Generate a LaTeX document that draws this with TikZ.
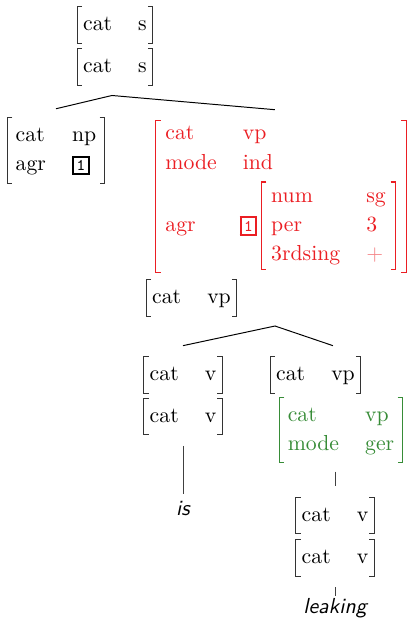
\documentclass[tikz,border=0pt]{standalone}
\usetikzlibrary{fit}
\definecolor{avmred}{RGB}{235,30,35}
\definecolor{avmgreen}{RGB}{55,140,55}
\renewcommand{\arraystretch}{1.1}
\newcommand{\boxtag}[1]{{\setlength{\fboxrule}{0.85pt}\setlength{\fboxsep}{1.2pt}\fbox{\fontsize{7.5}{7.5}\selectfont\ttfamily #1}}}
\newcommand{\avmtab}[1]{\begin{tabular}{@{}l@{\hspace{12pt}}l@{}}#1\end{tabular}}
\newcommand{\avmbr}[2][brk]{%
  \draw[#1] ([xshift=2.3pt]#2.north west) -- (#2.north west) -- (#2.south west) -- ([xshift=2.3pt]#2.south west);
  \draw[#1] ([xshift=-2.3pt]#2.north east) -- (#2.north east) -- (#2.south east) -- ([xshift=-2.3pt]#2.south east);}
\tikzset{
  brk/.style={line width=0.45pt, draw=black!80},
  redbrk/.style={line width=0.8pt, draw=avmred},
  greenbrk/.style={line width=0.55pt, draw=avmgreen},
  avm/.style={inner xsep=2.6pt, inner ysep=1.7pt, anchor=center},
  tree/.style={line width=0.45pt, draw=black},
  stem/.style={line width=0.4pt, draw=black!75},
  leaf/.style={font=\sffamily\itshape, inner sep=0pt, anchor=base},
}
\begin{document}
\begin{tikzpicture}[x=0.46pt, y=-0.46pt]
\useasboundingbox (0,0) rectangle (408,620);
% root
\node[avm] (s1) at (115,25) {\avmtab{cat & s}};
\node[avm] (s2) at (115,67) {\avmtab{cat & s}};
\avmbr{s1}
\avmbr{s2}
% NP
\node[avm, inner xsep=3.6pt] (np) at (56,150.5) {\avmtab{cat & np\\ agr & \boxtag{1}}};
\avmbr{np}
% red VP
\node[anchor=base west, inner sep=0pt, text=avmred] (vprows) at (165,139)
  {\renewcommand{\arraystretch}{1.15}\begin{tabular}[t]{@{}l@{\hspace{12pt}}l@{}}cat & vp\\ mode & ind\end{tabular}};
\node[anchor=base west, inner sep=0pt, text=avmred] (vpagr) at (165,231) {agr};
\node[inner sep=0pt, text=avmred] (tag2) at (248.5,226) {\boxtag{1}};
\node[avm, inner xsep=4.3pt, inner ysep=0pt, text=avmred] (agrv) at (328.5,225.5)
  {\renewcommand{\arraystretch}{1.11}\avmtab{num & sg\\ per & 3\\ 3rdsing & \textcolor{avmred!55}{$+$}}};
\avmbr[redbrk]{agrv}
\coordinate (vrnw) at (156,121);
\coordinate (vrse) at (406,272);
\node[fit=(vrnw)(vrse), inner sep=0pt] (vpr) {};
\avmbr[redbrk]{vpr}
\node[avm] (vp2) at (191.5,298) {\avmtab{cat & vp}};
\avmbr{vp2}
% level 2
\node[avm] (v1) at (183,375) {\avmtab{cat & v}};
\node[avm] (v2) at (183,416.5) {\avmtab{cat & v}};
\avmbr{v1}
\avmbr{v2}
\node[avm] (vp3) at (315.5,375) {\avmtab{cat & vp}};
\avmbr{vp3}
\node[avm, inner xsep=3.7pt, inner ysep=1.5pt, text=avmgreen] (green) at (341,430) {\avmtab{cat & vp\\ mode & ger}};
\avmbr[greenbrk]{green}
\node[avm] (v3) at (335,515.5) {\avmtab{cat & v}};
\node[avm] (v4) at (335,558) {\avmtab{cat & v}};
\avmbr{v3}
\avmbr{v4}
% leaves
\node[leaf] (is) at (183,515) {is};
\node[leaf] (leaking) at (335,613) {leaking};
% connectors
\coordinate (a1) at ([xshift=-1.4pt,yshift=-4.6pt]s2.south);
\draw[tree] ([yshift=4.1pt]np.north) -- (a1) -- ([xshift=-2.8pt,yshift=5pt]vpr.north);
\coordinate (a2) at (275,326);
\draw[tree] ([yshift=5pt]v1.north) -- (a2) -- ([xshift=8pt,yshift=5pt]vp3.north);
\draw[stem] ([yshift=-5pt]v2.south) -- ([yshift=2.8pt]is.north);
\coordinate (g1) at (green.south -| v3.north);
\draw[stem] ([yshift=-4.2pt]g1) -- ([yshift=5pt]v3.north);
\draw[stem] ([yshift=-5pt]v4.south) -- ([yshift=0.6pt]leaking.north);
\end{tikzpicture}
\end{document}
